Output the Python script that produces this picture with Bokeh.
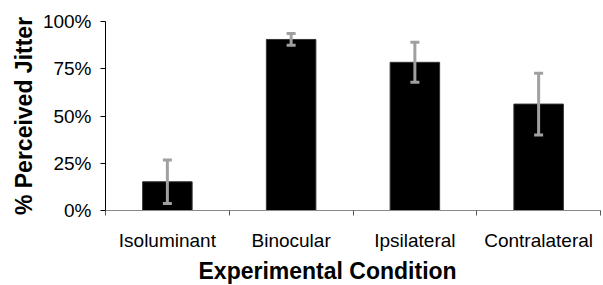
from bokeh.plotting import figure
from bokeh.models import (ColumnDataSource, Range1d, LinearAxis, Title,
                          FixedTicker, NumeralTickFormatter, Whisker, TeeHead)
from bokeh.embed import file_html
from bokeh.resources import INLINE

conditions = ["Isoluminant", "Binocular", "Ipsilateral", "Contralateral"]
jitter = [0.152, 0.905, 0.784, 0.563]
err = [0.115, 0.031, 0.106, 0.163]
y_ticks = [0, 0.25, 0.5, 0.75, 1.0]
x_title = "Experimental Condition"
y_title = "% Perceived Jitter"

FONT = "Liberation Sans"
n = len(conditions)
centers = [i + 0.5 for i in range(n)]

src = ColumnDataSource(dict(
    x=centers,
    val=jitter,
    upper=[v + e for v, e in zip(jitter, err)],
    lower=[v - e for v, e in zip(jitter, err)],
))

p = figure(width=603, height=285, x_range=Range1d(0, n), y_range=Range1d(0, 1),
           output_backend="svg", toolbar_location=None, x_axis_location=None,
           min_border_left=105, min_border_right=3, min_border_top=21, min_border_bottom=74)
p.outline_line_color = None
p.xgrid.visible = False
p.ygrid.visible = False

p.vbar(x="x", top="val", width=0.4, bottom=0, source=src,
       fill_color="black", line_color="#333333", line_width=1)

w = Whisker(base="x", upper="upper", lower="lower", source=src, dimension="height",
            line_color="#A0A0A0", line_width=3, level="overlay",
            upper_head=TeeHead(size=9, line_color="#A0A0A0", line_width=3),
            lower_head=TeeHead(size=9, line_color="#A0A0A0", line_width=3))
p.add_layout(w)

# y axis
ya = p.yaxis[0]
ya.ticker = FixedTicker(ticks=y_ticks)
ya.formatter = NumeralTickFormatter(format="0%")
ya.axis_line_color = "black"
ya.major_tick_line_color = "black"
ya.major_tick_out = 5
ya.major_tick_in = 0
ya.minor_tick_out = 0
ya.minor_tick_in = 0
ya.major_label_text_font = FONT
ya.major_label_text_font_size = "19px"
ya.major_label_text_color = "black"
ya.major_label_standoff = 9
ya.axis_label = y_title
ya.axis_label_text_font = FONT
ya.axis_label_text_font_size = "23px"
ya.axis_label_text_font_style = "bold"
ya.axis_label_text_color = "black"
ya.axis_label_standoff = 3

# boundary tick axis
bounds = list(range(n + 1))
ba = LinearAxis(ticker=FixedTicker(ticks=bounds))
ba.axis_line_color = "#888888"
ba.major_tick_line_color = "#555555"
ba.major_tick_out = 5
ba.major_tick_in = 0
ba.minor_tick_out = 0
ba.minor_tick_in = 0
ba.major_label_overrides = {b: "" for b in bounds}
ba.major_label_text_font_size = "1px"
ba.major_label_standoff = 0
p.add_layout(ba, "below")

# category label axis
ca = LinearAxis(ticker=FixedTicker(ticks=centers))
ca.major_label_overrides = {c: name for c, name in zip(centers, conditions)}
ca.axis_line_color = None
ca.major_tick_line_color = None
ca.minor_tick_line_color = None
ca.major_tick_out = 0
ca.major_tick_in = 0
ca.minor_tick_out = 0
ca.minor_tick_in = 0
ca.major_label_text_font = FONT
ca.major_label_text_font_size = "19px"
ca.major_label_text_color = "black"
ca.major_label_standoff = 14
p.add_layout(ca, "below")

t = Title(text=x_title, align="left", offset=93, text_font=FONT,
          text_font_size="23px", text_font_style="bold", text_color="black", standoff=4)
p.add_layout(t, "below")

open("out.html", "w").write(file_html(p, INLINE))
